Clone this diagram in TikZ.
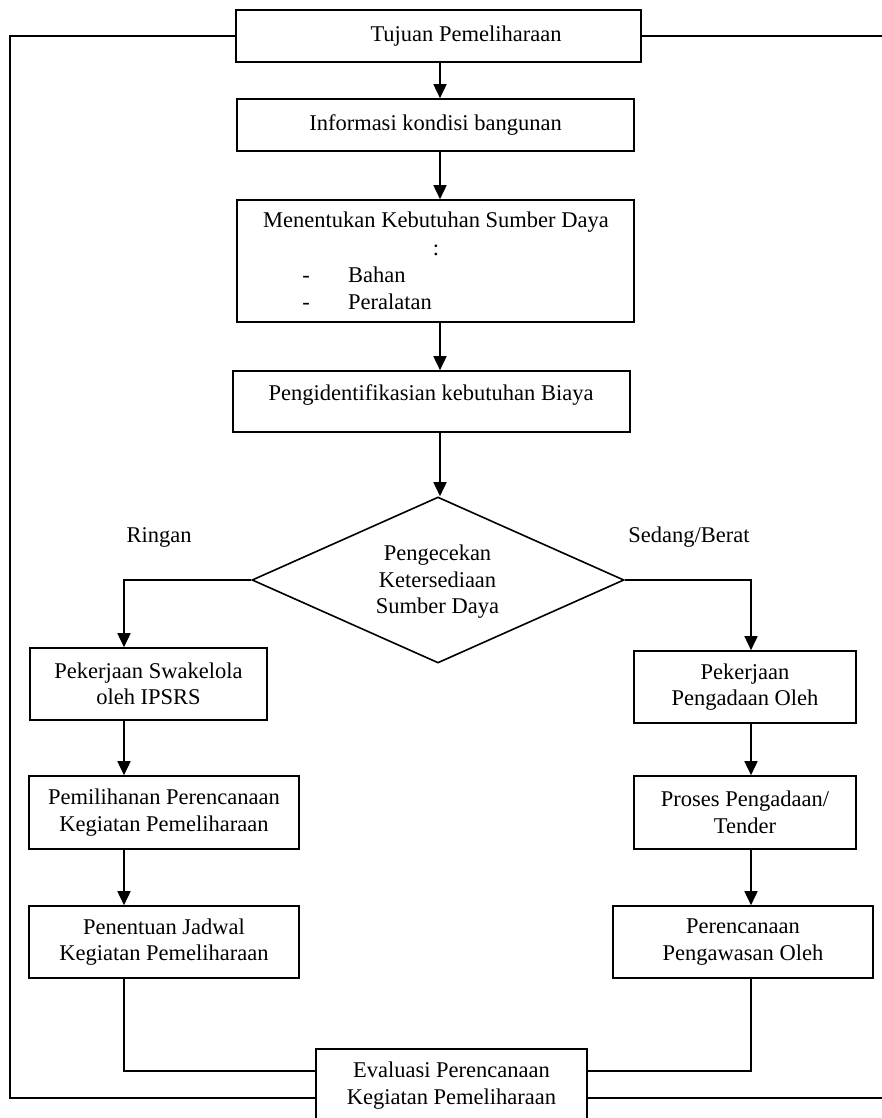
\documentclass[tikz,border=0pt]{standalone}
\usepackage{fontspec}
\setmainfont{Liberation Serif}
\usetikzlibrary{arrows.meta,shapes.geometric}
\begin{document}
\begin{tikzpicture}[x=1pt,y=-1pt,
  every node/.style={font=\fontsize{22.5}{26.5}\selectfont},
  boxnode/.style={draw,line width=1.6pt,rectangle,inner sep=0pt,align=center},
  txt/.style={inner sep=0pt,align=center},
  ln/.style={line width=1.6pt},
  arr/.style={line width=1.6pt,-{Triangle[length=14pt,width=13pt]}}]
\useasboundingbox (0,0) rectangle (882,1118);
% boxes
\node[boxnode,minimum width=405pt,minimum height=52pt] (tujuan) at (438.5,36) {};
\node[txt] (tujuanT) at (466,36) {Tujuan Pemeliharaan};
\node[boxnode,minimum width=397pt,minimum height=52pt] (info) at (435.5,125) {Informasi kondisi bangunan};
\node[boxnode,minimum width=397pt,minimum height=122pt] (kebutuhan) at (435.5,261) {};
\node[txt] (kebT) at (436,222) {Menentukan Kebutuhan Sumber Daya};
\node[txt] (kebC) at (436,250) {:};
\node[txt,anchor=base] (dashA) at (306,282) {-};
\node[txt,anchor=base] (dashB) at (306,309) {-};
\node[txt,anchor=base west] (bahan) at (348,282) {Bahan};
\node[txt,anchor=base west] (alat) at (348,309) {Peralatan};
\node[boxnode,minimum width=397pt,minimum height=61pt] (biaya) at (431.5,401.5) {};
\node[txt] (biayaT) at (431,395) {Pengidentifikasian kebutuhan Biaya};
\node[draw,line width=1.6pt,diamond,inner sep=0pt,minimum width=372pt,minimum height=166pt] (dia) at (438,580) {};
\node[txt] (diaT) at (437.5,582) {Pengecekan\\Ketersediaan\\Sumber Daya};
\node[txt] (ringan) at (159,537) {Ringan};
\node[txt] (sedang) at (689,537) {Sedang/Berat};
\node[boxnode,minimum width=237pt,minimum height=72pt] (swa) at (148.5,684) {Pekerjaan Swakelola\\oleh IPSRS};
\node[boxnode,minimum width=222pt,minimum height=72pt] (pengadaan) at (745,687) {Pekerjaan\\Pengadaan Oleh};
\node[boxnode,minimum width=270pt,minimum height=73pt] (pemilihan) at (164,812.5) {Pemilihanan Perencanaan\\Kegiatan Pemeliharaan};
\node[boxnode,minimum width=222pt,minimum height=73pt] (proses) at (745,812.5) {Proses Pengadaan/\\Tender};
\node[boxnode,minimum width=270pt,minimum height=72pt] (penentuan) at (164,942) {Penentuan Jadwal\\Kegiatan Pemeliharaan};
\node[boxnode,minimum width=260pt,minimum height=72pt] (pengawasan) at (743,942) {Perencanaan\\Pengawasan Oleh};
\node[boxnode,minimum width=271pt,minimum height=73pt] (eval) at (451.5,1085.5) {Evaluasi Perencanaan\\Kegiatan Pemeliharaan};
% helper coordinates
\coordinate (cx) at (440,0);
\coordinate (colL) at (124,0);
\coordinate (colR) at (751,0);
\coordinate (outL) at (10,0);
\coordinate (outR) at (882,0);
\coordinate (ly) at (0,1071);
\coordinate (ob) at (0,1098);
% main column arrows
\draw[arr] (tujuan.south -| cx) -- (info.north -| cx);
\draw[arr] (info.south -| cx) -- (kebutuhan.north -| cx);
\draw[arr] (kebutuhan.south -| cx) -- (biaya.north -| cx);
\draw[arr] (biaya.south -| cx) -- (dia.north -| cx);
% branches
\draw[arr] (dia.west) -| (swa.north -| colL);
\draw[arr] (dia.east) -| (pengadaan.north -| colR);
\draw[arr] (swa.south -| colL) -- (pemilihan.north -| colL);
\draw[arr] (pemilihan.south -| colL) -- (penentuan.north -| colL);
\draw[arr] (pengadaan.south -| colR) -- (proses.north -| colR);
\draw[arr] (proses.south -| colR) -- (pengawasan.north -| colR);
% to evaluation
\draw[ln] (penentuan.south -| colL) |- (eval.west |- ly);
\draw[ln] (pengawasan.south -| colR) |- (eval.east |- ly);
% outer feedback loop
\draw[ln] (tujuan.west) -| (outL |- ob) -- (eval.west |- ob);
\draw[ln] (tujuan.east) -- (outR |- tujuan.east);
\draw[ln] (eval.east |- ob) -- (outR |- ob);
\end{tikzpicture}
\end{document}
